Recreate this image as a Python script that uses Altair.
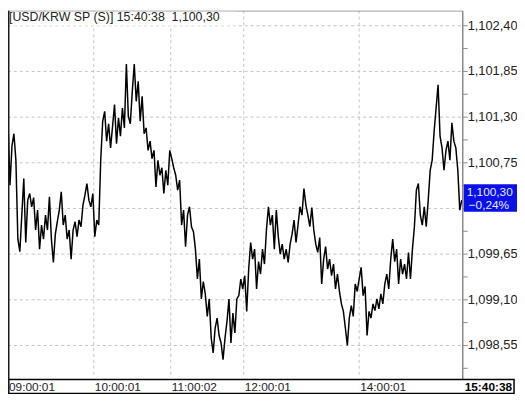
import altair as alt
import pandas as pd

# ---- data ----
symbol = "USD/KRW SP (S)"
last_time = "15:40:38"
change_pct = -0.0024

prices = [
    1101.25, 1100.48, 1100.95, 1101.10, 1100.78, 1099.83, 1099.68, 1100.12, 1100.56, 1099.79,
    1100.30, 1100.38, 1100.22, 1100.33, 1099.94, 1100.18, 1099.71, 1100.00, 1099.83, 1100.12,
    1099.94, 1100.34, 1099.83, 1099.55, 1099.89, 1100.04, 1100.18, 1100.40, 1100.00, 1100.12,
    1099.83, 1099.94, 1099.59, 1099.94, 1100.04, 1099.86, 1100.06, 1099.98, 1100.24, 1100.36,
    1100.50, 1100.30, 1100.22, 1100.38, 1099.86, 1100.06, 1100.00, 1100.78, 1101.25, 1101.37,
    1101.01, 1101.22, 1100.93, 1101.19, 1101.45, 1100.98, 1101.29, 1101.07, 1101.41, 1101.17,
    1101.94, 1101.31, 1101.22, 1101.61, 1101.94, 1101.49, 1101.73, 1101.25, 1101.55, 1101.10,
    1101.17, 1100.90, 1101.01, 1100.80, 1100.90, 1100.46, 1100.78, 1100.60, 1100.69, 1100.38,
    1100.66, 1100.48, 1100.90, 1100.80, 1100.69, 1100.60, 1100.42, 1100.54, 1100.00, 1100.18,
    1099.74, 1100.12, 1100.22, 1099.98, 1099.92, 1099.71, 1099.35, 1099.59, 1099.11, 1099.32,
    1099.17, 1098.90, 1099.11, 1098.64, 1098.46, 1098.76, 1098.88, 1098.67, 1098.58, 1098.38,
    1098.64, 1098.84, 1099.11, 1098.58, 1098.94, 1098.70, 1099.11, 1099.15, 1099.35, 1099.23,
    1099.39, 1098.96, 1099.47, 1099.79, 1099.59, 1099.71, 1099.23, 1099.56, 1099.41, 1099.71,
    1099.53, 1099.94, 1100.22, 1100.00, 1100.12, 1099.71, 1100.18, 1099.86, 1099.65, 1099.77,
    1099.59, 1099.71, 1099.55, 1099.77, 1099.89, 1100.06, 1099.79, 1100.00, 1100.22, 1100.12,
    1100.44, 1100.24, 1100.12, 1099.98, 1100.21, 1099.94, 1099.77, 1099.67, 1099.85, 1099.29,
    1099.59, 1099.74, 1099.47, 1099.59, 1099.39, 1099.53, 1099.23, 1099.41, 1099.20, 1099.05,
    1098.96, 1098.76, 1098.55, 1098.88, 1099.03, 1098.90, 1099.29, 1099.20, 1099.35, 1099.49,
    1099.15, 1099.26, 1098.67, 1098.96, 1098.88, 1099.05, 1098.97, 1099.11, 1098.99, 1099.17,
    1099.05, 1099.29, 1099.41, 1099.23, 1099.59, 1099.83, 1099.56, 1099.71, 1099.29, 1099.59,
    1099.41, 1099.53, 1099.35, 1099.67, 1099.35, 1099.71, 1099.98, 1100.42, 1100.50, 1100.12,
    1100.00, 1100.22, 1099.98, 1100.30, 1100.66, 1100.78, 1101.13, 1101.41, 1101.69, 1101.07,
    1100.93, 1100.66, 1100.90, 1101.01, 1100.78, 1101.23, 1101.01, 1100.93, 1100.66, 1100.18,
    1100.30,
]

time_labels = ["09:00:01", "10:00:01", "11:00:02", "12:00:01", "14:00:01"]
time_pos = [0, 43.5, 82.5, 119.5, 178]

y_major = [1102.40, 1101.85, 1101.30, 1100.75, 1100.20, 1099.65, 1099.10, 1098.55]
y_minor = [1102.125, 1101.575, 1101.025, 1100.475, 1099.925, 1099.375, 1098.825, 1098.275]

# ---- layout ----
W, H = 461, 372
FONT = "Liberation Sans"
GRID = "#c4c4c4"

xs = alt.Scale(domain=[0, 230.5], nice=False, zero=False)
ys = alt.Scale(domain=[1098.163, 1102.582], nice=False, zero=False)

df = pd.DataFrame({"i": list(range(len(prices))), "p": prices})
last = prices[-1]
df_last = pd.DataFrame({"p": [last], "c": [change_pct]})
df_major = pd.DataFrame({"v": y_major, "last": [last] * len(y_major)})
df_ticks = pd.DataFrame({"v": y_major + y_minor})
df_time = pd.DataFrame({"t": time_pos, "lab": time_labels})
one = pd.DataFrame({"a": [0]})

def fmt_price(v):
    s = f"{v:,.2f}"
    return s.replace(".", ",")

title_text = f"[{symbol}] {last_time}\u00a0\u00a0{fmt_price(last)}"

hgrid = alt.Chart(df_major).mark_rule(color=GRID, strokeDash=[3, 3], strokeWidth=1).encode(
    y=alt.Y("v:Q", scale=ys, axis=None), x=alt.value(0), x2=alt.value(W)
)
vgrid = alt.Chart(df_time).mark_rule(color=GRID, strokeDash=[3, 3], strokeWidth=1).encode(
    x=alt.X("t:Q", scale=xs, axis=None), y=alt.value(0), y2=alt.value(H)
)
line = alt.Chart(df).mark_line(color="#000000", strokeWidth=1.5, interpolate="linear").encode(
    x=alt.X("i:Q", scale=xs, axis=None), y=alt.Y("p:Q", scale=ys, axis=None)
)
top_line = alt.Chart(one).mark_rule(color="#a0a0a0", strokeWidth=1).encode(
    x=alt.value(0), x2=alt.value(W), y=alt.value(0.5)
)
left_line = alt.Chart(one).mark_rule(color="#1a1a1a", strokeWidth=2).encode(
    x=alt.value(0.5), y=alt.value(0), y2=alt.value(388)
)
axis_line = alt.Chart(one).mark_rule(color="#8a8a8a", strokeWidth=1.5).encode(
    x=alt.value(W), y=alt.value(0), y2=alt.value(H + 2)
)
ticks = alt.Chart(df_ticks).mark_rule(color="#8a8a8a", strokeWidth=1).encode(
    y=alt.Y("v:Q", scale=ys, axis=None), x=alt.value(W), x2=alt.value(W + 5)
)
# the label hidden under the last-price box in the reference is not drawn
ylabels = alt.Chart(df_major).transform_filter(
    "abs(datum.v - datum.last) > 0.2"
).transform_calculate(
    lab="replace(format(datum.v, ',.2f'), '.', ',')"
).mark_text(align="left", baseline="middle", font=FONT, fontSize=13, color="#222222").encode(
    y=alt.Y("v:Q", scale=ys, axis=None), x=alt.value(W + 5), text="lab:N"
)
box = alt.Chart(df_last).transform_calculate(
    top="datum.p + 0.19", bot="datum.p - 0.14"
).mark_rect(color="#0a10e8").encode(
    y=alt.Y("top:Q", scale=ys, axis=None), y2="bot:Q", x=alt.value(W + 1), x2=alt.value(516)
)
box_price = alt.Chart(df_last).transform_calculate(
    lab="replace(format(datum.p, ',.2f'), '.', ',')"
).mark_text(align="left", baseline="middle", font=FONT, fontSize=12, color="#e8e8ff", dy=-8).encode(
    y=alt.Y("p:Q", scale=ys, axis=None), x=alt.value(W + 4), text="lab:N"
)
box_pct = alt.Chart(df_last).transform_calculate(
    lab="replace(format(datum.c, '.2%'), '.', ',')"
).mark_text(align="left", baseline="middle", font=FONT, fontSize=12, color="#e8e8ff", dy=5).encode(
    y=alt.Y("p:Q", scale=ys, axis=None), x=alt.value(W + 6), text="lab:N"
)
bottom_box = alt.Chart(one).mark_rect(fill="white", stroke="#000000", strokeWidth=1.5).encode(
    x=alt.value(0.5), x2=alt.value(513), y=alt.value(374), y2=alt.value(388)
)
xlabels = alt.Chart(df_time).mark_text(
    align="left", baseline="middle", font=FONT, fontSize=12, color="#222222", dx=1
).encode(x=alt.X("t:Q", scale=xs, axis=None), y=alt.value(381.5), text="lab:N")
end_label = alt.Chart(one).mark_text(
    align="right", baseline="middle", font=FONT, fontSize=12, fontWeight="bold", color="#000000"
).encode(x=alt.value(511), y=alt.value(381.5), text=alt.value(last_time))
title_bg = alt.Chart(one).mark_rect(fill="white").encode(
    x=alt.value(1.5), x2=alt.value(232), y=alt.value(1), y2=alt.value(15)
)
title = alt.Chart(one).mark_text(
    align="left", baseline="middle", font=FONT, fontSize=12.5, color="#222222"
).encode(x=alt.value(1), y=alt.value(6), text=alt.value(title_text))

chart = alt.layer(
    hgrid, vgrid, line, top_line, axis_line, ticks, ylabels, box, box_price, box_pct,
    bottom_box, xlabels, end_label, title_bg, title, left_line
).properties(
    width=W, height=H,
    autosize=alt.AutoSizeParams(type="none"),
    padding={"left": 0, "top": 0, "right": 55, "bottom": 17},
    background="white",
).configure_view(stroke=None)

chart.save("out.html", embed_options={"renderer": "svg", "actions": False})
